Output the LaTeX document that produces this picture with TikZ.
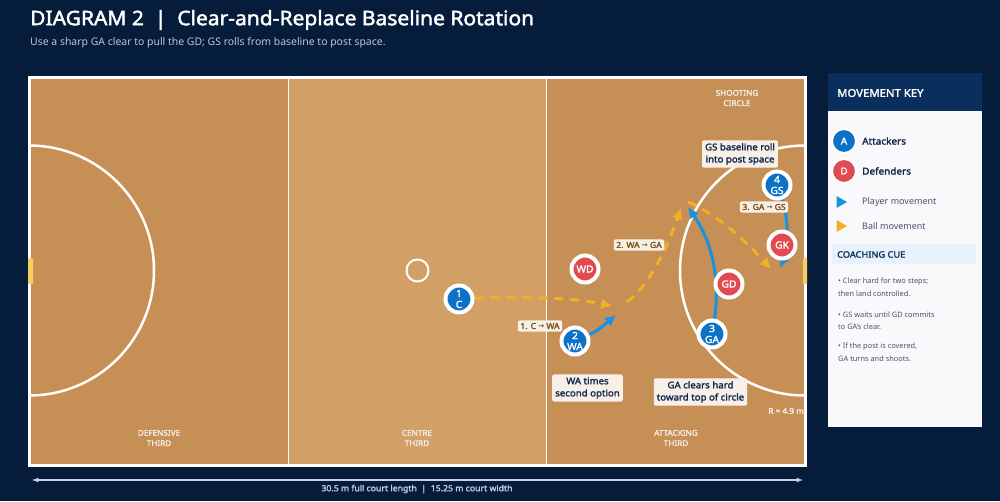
\documentclass[tikz,border=0pt]{standalone}
\usepackage{fontspec}
\setmainfont{Noto Sans}[BoldFont={Noto Sans},BoldFeatures={FakeBold=2,FakeStretch=1.05}]
\newfontfamily\arrowfont{DejaVu Sans}
\usepackage{xcolor}
\usetikzlibrary{arrows.meta, backgrounds}
\definecolor{navybg}{HTML}{051C3A}
\definecolor{courtdark}{HTML}{C68F56}
\definecolor{courtlight}{HTML}{D2A066}
\definecolor{postyellow}{HTML}{F6CF62}
\definecolor{attackblue}{HTML}{0C72C8}
\definecolor{defendred}{HTML}{E04A50}
\definecolor{moveblue}{HTML}{1592E2}
\definecolor{ballgold}{HTML}{F2B024}
\definecolor{notefill}{HTML}{F6F0E8}
\definecolor{notetext}{HTML}{12264A}
\definecolor{balltext}{HTML}{7A4F10}
\definecolor{headblue}{HTML}{0A2F5C}
\definecolor{cueblue}{HTML}{E8F2FB}
\definecolor{panelwhite}{HTML}{F9F9FB}
\definecolor{panelgrey}{HTML}{46536A}
\definecolor{dimgrey}{HTML}{C3D1E2}
\newcommand{\fs}[1]{\fontsize{#1}{\fpeval{#1*1.32}}\selectfont}
\pgfdeclarelayer{court}
\pgfsetlayers{court,background,main}

\tikzset{
    player/.style={circle, draw=white, line width=4pt, minimum size=27pt, inner sep=0pt,
        text=white, font=\fs{9.8}\bfseries, align=center},
    attacker/.style={player, fill=attackblue},
    defender/.style={player, fill=defendred},
    keydisc/.style={circle, draw=white, line width=2pt, minimum size=24pt, inner sep=0pt,
        text=white, font=\fs{9.5}\bfseries},
    playermove/.style={draw=moveblue, line width=3pt, -{Latex[length=11pt,width=11pt]}},
    ballmove/.style={draw=ballgold, line width=3pt, dash pattern=on 9pt off 7pt,
        -{Latex[length=11pt,width=11pt]}},
    note/.style={fill=notefill, rounded corners=1.5pt, text=notetext, align=center,
        font=\fs{9.2}\bfseries, inner xsep=3pt, inner ysep=3pt},
    balllabel/.style={fill=notefill, rounded corners=1.5pt, text=balltext,
        font=\fs{8.2}\bfseries, inner xsep=2.5pt, inner ysep=2.5pt},
    zonelabel/.style={text=white!85!courtdark, align=center, font=\fs{7.8}\bfseries, inner sep=0pt},
    keytext/.style={anchor=west, inner sep=0pt, text=panelgrey, font=\fs{9}},
    keybold/.style={anchor=west, inner sep=0pt, text=notetext, font=\fs{9.5}\bfseries},
    cuetext/.style={anchor=west, inner sep=0pt, text=panelgrey, font=\fs{7.4}},
}

\begin{document}
\begin{tikzpicture}[x=1pt, y=-1pt, >=latex]
    \useasboundingbox (0,0) rectangle (1000,501);

    % Court and its markings
    \begin{pgfonlayer}{court}
    \fill[navybg] (0,0) rectangle (1000,501);
    \fill[courtdark] (29,77.5) rectangle (805,465);
    \fill[courtlight] (288.5,77.5) rectangle (546.5,465);
    \begin{scope}
        \clip (29,77.5) rectangle (805,465);
        \draw[white, line width=2.5pt] (29,270.5) circle (125);
        \draw[white, line width=2.5pt] (805,270.5) circle (125);
    \end{scope}
    \draw[white, line width=1.8pt] (288.5,77.5) -- (288.5,465);
    \draw[white, line width=1.8pt] (546.5,77.5) -- (546.5,465);
    \draw[white, line width=2pt] (417.5,270.5) circle (11);
    \draw[white, line width=3pt] (29,77.5) rectangle (805,465);
    \fill[postyellow, rounded corners=1pt] (28,258) rectangle (33,284);
    \fill[postyellow, rounded corners=1pt] (803,258) rectangle (807,284);
    \end{pgfonlayer}

    % Heading
    \node[anchor=west, inner sep=0pt, text=white, font=\fs{20}\bfseries] (title) at (30,20)
        {DIAGRAM 2~~|~~Clear-and-Replace Baseline Rotation};
    \node[anchor=west, inner sep=0pt, text=white!75!navybg, font=\fs{10.45}] (subtitle) at (30,42.5)
        {Use a sharp GA clear to pull the GD; GS rolls from baseline to post space.};

    % Players
    \node[attacker] (c) at (459,299) {1\\[-2pt]C};
    \node[attacker] (wa) at (575,341) {2\\[-2pt]WA};
    \node[attacker] (ga) at (712,334) {3\\[-2pt]GA};
    \node[attacker] (gs) at (777,185) {4\\[-2pt]GS};
    \node[defender] (wd) at (585,269) {WD};
    \node[defender] (gd) at (729,284) {GD};
    \node[defender] (gk) at (782,245) {GK};

    % Free ends of the movements
    \coordinate (waend) at (616,315);
    \coordinate (gaend) at (688,207);
    \coordinate (gsend) at (780,268);
    \coordinate (ballone) at (612,306);
    \coordinate (balltwostart) at (627,302);
    \coordinate (balltwo) at (681,208);
    \coordinate (ballthreestart) at (688,202);
    \coordinate (ballthree) at (771,269);

    \begin{pgfonlayer}{background}
    \draw[playermove] (wa) .. controls (597,331) .. (waend);
    \draw[playermove] (ga.center) .. controls (722,285) and (714,245) .. (gaend);
    \draw[playermove] (gs.center) .. controls (788,205) and (790,245) .. (gsend);
    \draw[ballmove] (c) .. controls (525,296) and (575,298) .. (ballone);
    \draw[ballmove] (balltwostart) .. controls (652,282) and (668,245) .. (balltwo);
    \draw[ballmove] (ballthreestart) .. controls (715,213) and (745,240) .. (ballthree);
    \end{pgfonlayer}

    % Pass labels
    \node[balllabel] (passone) at (540,326) {1. C {\arrowfont\fs{7}→} WA};
    \node[balllabel] (passtwo) at (639,245) {2. WA {\arrowfont\fs{7}→} GA};
    \node[balllabel] (passthree) at (764,207) {3. GA {\arrowfont\fs{7}→} GS};

    % Notes on the court
    \node[note] (gsnote) at (740,154) {GS baseline roll\\into post space};
    \node[note] (wanote) at (587.5,388) {WA times\\second option};
    \node[note] (ganote) at (700.5,392) {GA clears hard\\toward top of circle};
    \node[zonelabel] (shooting) at (737,98) {SHOOTING\\CIRCLE};
    \node[zonelabel] (defthird) at (159,438) {DEFENSIVE\\THIRD};
    \node[zonelabel] (centthird) at (417,438) {CENTRE\\THIRD};
    \node[zonelabel] (attthird) at (676,438) {ATTACKING\\THIRD};
    \node[anchor=east, inner sep=0pt, text=white!90!courtdark, font=\fs{7.8}\bfseries] (radius) at (804,411) {R = 4.9 m};

    % Court length
    \coordinate (lenleft) at (32,480);
    \coordinate (lenright) at (803,480);
    \draw[dimgrey, line width=1.2pt, <->] (lenleft) -- (lenright);
    \node[inner sep=0pt, text=dimgrey, font=\fs{8.3}\bfseries] (lentext) at (417,489)
        {30.5 m full court length~~|~~15.25 m court width};

    % Key panel
    \fill[panelwhite] (828,111) rectangle (982,427);
    \fill[headblue] (828,73) rectangle (982,111);
    \node[anchor=west, inner sep=0pt, text=white, font=\fs{10.8}\bfseries] (keyhead) at (837,93) {MOVEMENT KEY};
    \node[keydisc, fill=attackblue] (keya) at (844,141) {A};
    \node[keydisc, fill=defendred] (keyd) at (844,171) {D};
    \node[keybold] (keyatt) at (862,141) {Attackers};
    \node[keybold] (keydef) at (862,171) {Defenders};
    \fill[moveblue] (836.5,196) -- (847,202) -- (836.5,208) -- cycle;
    \fill[ballgold] (836.5,220) -- (847,226) -- (836.5,232) -- cycle;
    \node[keytext] (keyplayer) at (862,202) {Player movement};
    \node[keytext] (keyball) at (862,226) {Ball movement};
    \fill[cueblue] (832,244) rectangle (976,264);
    \node[anchor=west, inner sep=0pt, text=headblue, font=\fs{8.8}\bfseries] (cuehead) at (837,254.5) {COACHING CUE};
    \node[cuetext] (cuea) at (838,282) {• Clear hard for two steps;};
    \node[cuetext] (cueb) at (838,294) {then land controlled.};
    \node[cuetext] (cuec) at (838,315) {• GS waits until GD commits};
    \node[cuetext] (cued) at (838,327) {to GA's clear.};
    \node[cuetext] (cuee) at (838,347) {• If the post is covered,};
    \node[cuetext] (cuef) at (838,359) {GA turns and shoots.};
\end{tikzpicture}
\end{document}
